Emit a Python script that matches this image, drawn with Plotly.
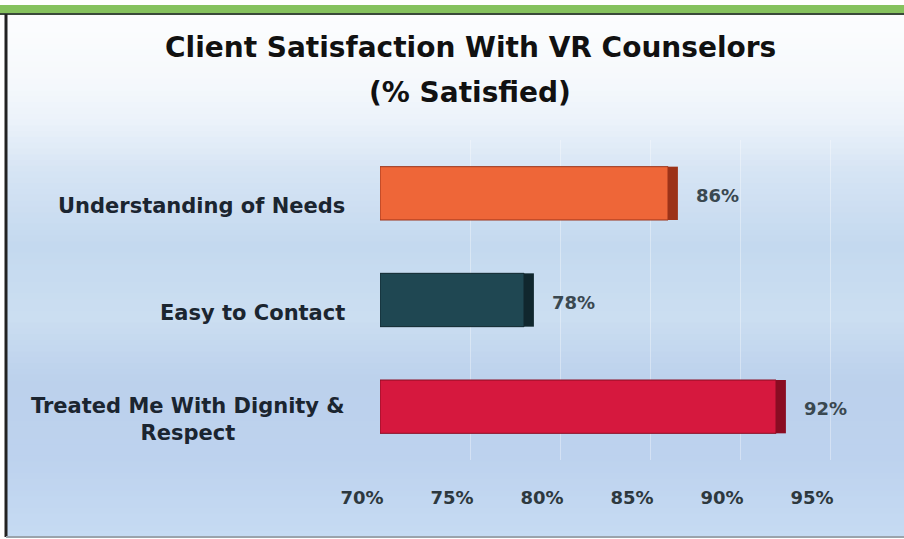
import plotly.graph_objects as go

# ---- data ----
categories = ["Understanding of Needs", "Easy to Contact", "Treated Me With Dignity &<br>Respect"]
values = [86, 78, 92]
value_labels = ["86%", "78%", "92%"]
tick_vals = [70, 75, 80, 85, 90, 95]
tick_labels = ["70%", "75%", "80%", "85%", "90%", "95%"]
title_lines = ["Client Satisfaction With VR Counselors", "(% Satisfied)"]

front_colors = ["#ee6638", "#1f4752", "#d6183e"]
side_colors = ["#9c3218", "#10272e", "#8a0c22"]
BASE = 70
DEPTH = 0.55

W, H = 904, 539
FONT = "DejaVu Sans"

fig = go.Figure()

# front faces
fig.add_trace(go.Bar(
    y=categories, x=[v - BASE for v in values], base=BASE, orientation="h",
    width=0.5, marker=dict(color=front_colors, line=dict(color=side_colors, width=1)),
    hoverinfo="skip", showlegend=False,
))
# side faces (3D depth look)
fig.add_trace(go.Bar(
    y=categories, x=[DEPTH] * len(values), base=values, orientation="h",
    width=0.5, marker=dict(color=side_colors, line=dict(width=0)),
    hoverinfo="skip", showlegend=False,
))

mt, mb, ml, mr = 140, 79, 380, 47
ph = H - mt - mb
pw = W - ml - mr
def py(p):
    return (H - mb - p) / ph
def px(p):
    return (p - ml) / pw

annotations = []
for c, v, lab in zip(categories, values, value_labels):
    annotations.append(dict(
        x=v, y=c, xref="x", yref="y", text=lab, showarrow=False,
        xanchor="left", yanchor="middle", xshift=26, yshift=-2,
        font=dict(family=FONT, size=18, color="#3a4850", weight="bold"),
    ))
    annotations.append(dict(
        x=px(347), y=c, xref="paper", yref="y", text=c, showarrow=False,
        xanchor="right", yanchor="middle", align="center", yshift=-13,
        font=dict(family=FONT, size=21, color="#1b2530", weight="bold"),
    ))
# title (two lines, wider spacing as in the reference)
for line, ypix in zip(title_lines, [48, 93]):
    annotations.append(dict(
        x=px(470), y=py(ypix), xref="paper", yref="paper", text=line,
        showarrow=False, xanchor="center", yanchor="middle",
        font=dict(family=FONT, size=28, color="#111111", weight="bold"),
    ))

# background gradient strips
stops = [
    (0.00, (252, 253, 254)), (0.12, (246, 249, 252)), (0.20, (236, 243, 250)),
    (0.30, (214, 228, 244)), (0.44, (196, 217, 239)), (0.58, (203, 222, 241)),
    (0.70, (188, 209, 236)), (0.85, (189, 210, 238)), (1.00, (198, 219, 243)),
]
def interp(t):
    for (t0, c0), (t1, c1) in zip(stops[:-1], stops[1:]):
        if t0 <= t <= t1:
            f = (t - t0) / (t1 - t0) if t1 > t0 else 0
            return tuple(round(a + (b - a) * f) for a, b in zip(c0, c1))
    return stops[-1][1]

shapes = []
top_px, bot_px = 15, 537
n = 90
for i in range(n):
    y0p = top_px + (bot_px - top_px) * i / n
    y1p = top_px + (bot_px - top_px) * (i + 1) / n + 0.8
    c = interp((i + 0.5) / n)
    shapes.append(dict(
        type="rect", xref="paper", yref="paper", layer="below",
        x0=px(6), x1=px(W), y0=py(y1p), y1=py(y0p), line=dict(width=0),
        fillcolor="rgb(%d,%d,%d)" % c,
    ))
# green top band
shapes.append(dict(type="rect", xref="paper", yref="paper", layer="below",
                   x0=px(0), x1=px(W), y0=py(13), y1=py(5), line=dict(width=0),
                   fillcolor="#86c25e"))
shapes.append(dict(type="line", xref="paper", yref="paper", layer="below",
                   x0=px(0), x1=px(W), y0=py(14), y1=py(14),
                   line=dict(color="#3a4a3a", width=2)))
# left border
shapes.append(dict(type="line", xref="paper", yref="paper", layer="below",
                   x0=px(6), x1=px(6), y0=py(537), y1=py(14),
                   line=dict(color="#222222", width=3)))
# bottom border
shapes.append(dict(type="line", xref="paper", yref="paper", layer="below",
                   x0=px(6), x1=px(W), y0=py(537), y1=py(537),
                   line=dict(color="#9aa4ac", width=2)))

fig.update_layout(
    width=W, height=H,
    margin=dict(l=ml, r=mr, t=mt, b=mb),
    paper_bgcolor="white", plot_bgcolor="rgba(0,0,0,0)",
    barmode="overlay",
    xaxis=dict(
        range=[BASE, 96.5], tickvals=tick_vals, ticktext=tick_labels,
        showgrid=True, gridcolor="rgba(255,255,255,0.35)", gridwidth=1,
        zeroline=False, showline=False, ticks="",
        ticklabelstandoff=25, ticklabelshift=-18,
        tickfont=dict(family=FONT, size=18, color="#2d383e", weight="bold"),
        fixedrange=True,
    ),
    yaxis=dict(
        autorange="reversed", showticklabels=False, showgrid=False,
        zeroline=False, showline=False, ticks="", fixedrange=True,
    ),
    annotations=annotations,
    shapes=shapes,
)

fig.write_html(
    "out.html",
    config={"displayModeBar": False},
    post_script="document.body.style.margin='0';document.body.style.overflow='hidden';",
)
